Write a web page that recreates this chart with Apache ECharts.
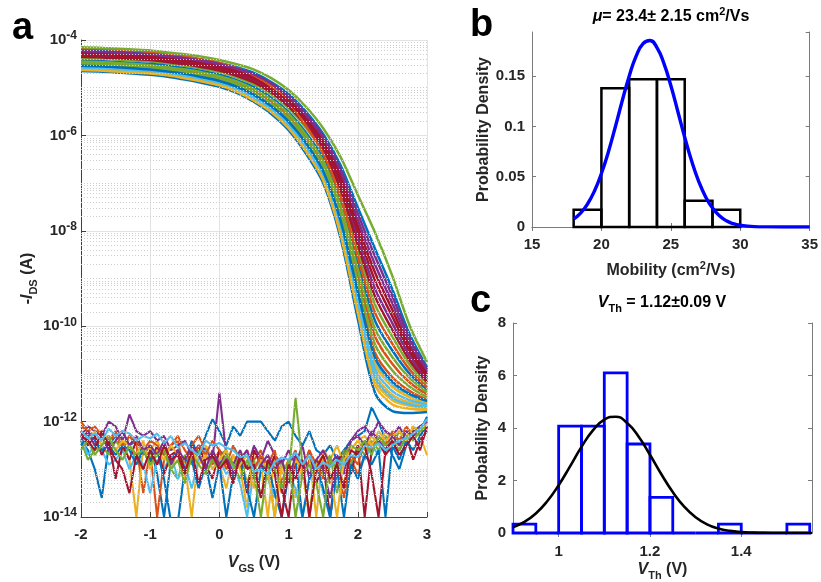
<!DOCTYPE html>
<html>
<head>
<meta charset="utf-8">
<script src="https://cdn.jsdelivr.net/npm/echarts@6/dist/echarts.min.js"></script>
<style>
  html, body { margin: 0; padding: 0; background: #fff; }
  #main { width: 821px; height: 582px; }
</style>
</head>
<body>
<div id="main"></div>
<script>
// ---------- data ----------
// panel a: transfer curves, stored as log10(-I_DS)
const vDrain = [-2, -1.75, -1.5, -1.25, -1, -0.75, -0.5, -0.25, 0, 0.25, 0.5, 0.75, 1, 1.25, 1.5, 1.75, 2, 2.25, 2.5, 2.75, 3];
const drainColor = [0, 1, 2, 3, 4, 5, 6, 0, 1, 2, 3, 4, 5, 6, 0, 1, 2, 3, 4, 5, 6, 2, 0, 4];
const drainLog = [
  [-4.65,-4.66,-4.68,-4.70,-4.73,-4.77,-4.83,-4.90,-4.98,-5.11,-5.30,-5.55,-5.89,-6.38,-7.00,-8.15,-9.85,-11.40,-11.78,-11.82,-11.80],
  [-4.48,-4.49,-4.51,-4.53,-4.55,-4.59,-4.64,-4.71,-4.78,-4.90,-5.06,-5.29,-5.60,-6.04,-6.60,-7.56,-8.94,-10.22,-10.79,-11.18,-11.43],
  [-4.61,-4.62,-4.64,-4.66,-4.69,-4.73,-4.79,-4.86,-4.94,-5.06,-5.25,-5.49,-5.82,-6.30,-6.91,-8.01,-9.64,-11.13,-11.55,-11.67,-11.72],
  [-4.25,-4.26,-4.28,-4.30,-4.32,-4.36,-4.41,-4.46,-4.53,-4.63,-4.76,-4.95,-5.22,-5.60,-6.08,-6.79,-7.77,-8.71,-9.52,-10.36,-10.96],
  [-4.38,-4.39,-4.41,-4.43,-4.45,-4.49,-4.54,-4.60,-4.67,-4.78,-4.93,-5.14,-5.43,-5.84,-6.37,-7.22,-8.42,-9.55,-10.22,-10.81,-11.22],
  [-4.55,-4.56,-4.58,-4.60,-4.63,-4.67,-4.72,-4.79,-4.87,-4.99,-5.16,-5.40,-5.72,-6.18,-6.77,-7.81,-9.33,-10.73,-11.21,-11.45,-11.59],
  [-4.28,-4.29,-4.31,-4.33,-4.35,-4.39,-4.43,-4.49,-4.56,-4.66,-4.79,-4.99,-5.26,-5.65,-6.14,-6.88,-7.90,-8.88,-9.66,-10.45,-11.01],
  [-4.43,-4.44,-4.46,-4.48,-4.50,-4.54,-4.59,-4.65,-4.73,-4.84,-4.99,-5.21,-5.51,-5.94,-6.48,-7.39,-8.68,-9.89,-10.51,-11.00,-11.33],
  [-4.53,-4.54,-4.56,-4.58,-4.60,-4.64,-4.70,-4.76,-4.84,-4.96,-5.13,-5.36,-5.68,-6.14,-6.71,-7.73,-9.20,-10.56,-11.07,-11.36,-11.54],
  [-4.59,-4.60,-4.62,-4.64,-4.67,-4.71,-4.77,-4.83,-4.91,-5.04,-5.22,-5.46,-5.79,-6.26,-6.86,-7.95,-9.54,-11.00,-11.44,-11.60,-11.67],
  [-4.33,-4.34,-4.36,-4.38,-4.40,-4.44,-4.49,-4.54,-4.62,-4.72,-4.86,-5.06,-5.34,-5.74,-6.25,-7.05,-8.16,-9.22,-9.94,-10.63,-11.12],
  [-4.45,-4.46,-4.48,-4.50,-4.53,-4.57,-4.62,-4.68,-4.76,-4.87,-5.03,-5.25,-5.55,-5.99,-6.54,-7.47,-8.81,-10.06,-10.65,-11.09,-11.38],
  [-4.60,-4.61,-4.63,-4.65,-4.68,-4.72,-4.78,-4.85,-4.92,-5.05,-5.23,-5.48,-5.81,-6.28,-6.89,-7.98,-9.59,-11.06,-11.50,-11.64,-11.70],
  [-4.35,-4.36,-4.38,-4.40,-4.42,-4.46,-4.51,-4.57,-4.64,-4.75,-4.89,-5.10,-5.39,-5.79,-6.31,-7.13,-8.29,-9.38,-10.08,-10.72,-11.17],
  [-4.20,-4.21,-4.23,-4.25,-4.27,-4.31,-4.35,-4.41,-4.48,-4.57,-4.69,-4.88,-5.13,-5.50,-5.97,-6.62,-7.51,-8.38,-9.23,-10.17,-10.86],
  [-4.17,-4.18,-4.20,-4.22,-4.25,-4.29,-4.34,-4.41,-4.48,-4.59,-4.74,-4.97,-5.30,-5.80,-6.38,-7.30,-8.55,-9.72,-10.37,-10.91,-11.28],
  [-4.56,-4.57,-4.59,-4.61,-4.64,-4.68,-4.74,-4.80,-4.88,-5.00,-5.18,-5.42,-5.74,-6.20,-6.79,-7.84,-9.38,-10.80,-11.27,-11.49,-11.61],
  [-4.23,-4.24,-4.26,-4.28,-4.30,-4.34,-4.38,-4.43,-4.50,-4.60,-4.72,-4.91,-5.18,-5.55,-6.02,-6.71,-7.64,-8.54,-9.37,-10.26,-10.91],
  [-4.50,-4.51,-4.53,-4.55,-4.58,-4.62,-4.67,-4.74,-4.81,-4.93,-5.10,-5.33,-5.64,-6.09,-6.66,-7.64,-9.07,-10.39,-10.93,-11.27,-11.49],
  [-4.58,-4.59,-4.61,-4.63,-4.65,-4.69,-4.75,-4.82,-4.90,-5.02,-5.20,-5.44,-5.76,-6.23,-6.83,-7.90,-9.46,-10.90,-11.36,-11.55,-11.64],
  [-4.30,-4.31,-4.33,-4.35,-4.37,-4.41,-4.46,-4.52,-4.59,-4.69,-4.82,-5.03,-5.30,-5.69,-6.20,-6.96,-8.03,-9.05,-9.80,-10.54,-11.07],
  [-4.63,-4.64,-4.66,-4.68,-4.70,-4.74,-4.80,-4.87,-4.95,-5.08,-5.27,-5.51,-5.85,-6.33,-6.94,-8.07,-9.72,-11.23,-11.64,-11.73,-11.75],
  [-4.54,-4.55,-4.57,-4.59,-4.62,-4.66,-4.71,-4.78,-4.86,-4.98,-5.15,-5.39,-5.71,-6.16,-6.75,-7.78,-9.28,-10.66,-11.16,-11.42,-11.57],
  [-4.15,-4.16,-4.18,-4.20,-4.22,-4.26,-4.30,-4.35,-4.42,-4.51,-4.62,-4.80,-5.05,-5.40,-5.85,-6.45,-7.25,-8.04,-8.95,-9.99,-10.75]
];

// panel a: leakage traces (noise floor), log10 values
const vLeak = [-2,-1.9,-1.8,-1.7,-1.6,-1.5,-1.4,-1.3,-1.2,-1.1,-1,-0.9,-0.8,-0.7,-0.6,-0.5,-0.4,-0.3,-0.2,-0.1,
  0,0.1,0.2,0.3,0.4,0.5,0.6,0.7,0.8,0.9,1,1.1,1.2,1.3,1.4,1.5,1.6,1.7,1.8,1.9,2,2.1,2.2,2.3,2.4,2.5,2.6,2.7,2.8,2.9,3];
const leakColor = [0, 1, 2, 3, 4, 5, 6, 0, 1, 2, 3, 4, 6, 5];
const leakLog = [
  [-12.4,-12.6,-13.0,-13.6,-12.5,-12.3,-12.2,-12.5,-12.4,-12.7, -12.5,-13.1,-14.0,-12.8,-12.6,-12.9,-12.4,-12.7,-12.3,-11.95,
   -12.2,-12.5,-12.1,-12.3,-12.0,-12.0,-12.0,-12.2,-12.4,-12.1, -12.0,-12.3,-12.5,-12.2,-12.6,-12.7,-12.5,-12.8,-12.6,-12.4,
   -12.3,-12.2,-11.7,-12.0,-12.4,-12.7,-13.0,-12.5,-12.3,-12.2, -11.9],
  [-12.1,-12.2,-12.3,-12.2,-12.4,-12.3,-12.6,-12.3,-12.5,-13.5, -12.6,-14.0,-12.8,-12.5,-12.4,-13.1,-12.5,-12.3,-12.6,-12.9,
   -12.6,-13.0,-12.7,-12.9,-13.4,-12.8,-12.6,-13.2,-12.7,-13.5, -12.9,-12.6,-13.2,-12.8,-13.0,-12.7,-13.3,-12.9,-13.6,-12.8,
   -13.1,-12.7,-12.5,-12.4,-12.6,-12.3,-12.4,-12.2,-12.3,-12.1, -12.0],
  [-12.2,-12.3,-12.5,-12.4,-12.3,-12.6,-12.4,-12.8,-14.0,-12.5, -12.6,-12.4,-12.7,-13.0,-12.6,-12.9,-14.0,-12.7,-12.5,-12.8,
   -12.9,-13.4,-12.7,-13.0,-13.8,-12.6,-12.9,-14.0,-12.7,-13.1, -12.8,-13.6,-12.9,-12.7,-14.0,-12.6,-12.8,-12.5,-12.9,-12.6,
   -12.4,-12.6,-12.3,-12.5,-12.2,-12.4,-12.5,-12.3,-12.2,-12.3, -12.7],
  [-12.3,-12.1,-12.2,-12.3,-12.0,-12.1,-12.4,-11.85,-12.2,-12.3, -12.2,-12.4,-12.3,-12.6,-12.5,-12.4,-12.7,-12.5,-12.6,-12.8,
   -11.4,-12.7,-12.9,-12.6,-13.0,-12.5,-12.8,-12.4,-12.7,-12.9, -12.6,-12.9,-12.5,-13.2,-12.8,-12.6,-12.9,-12.7,-13.1,-12.4,
   -12.2,-12.1,-12.3,-12.0,-12.2,-12.3,-12.1,-12.4,-12.2,-12.1, -12.0],
  [-12.4,-12.8,-12.6,-12.5,-12.7,-12.4,-12.6,-12.5,-12.8,-12.6, -12.7,-12.9,-12.6,-13.0,-13.2,-12.7,-12.9,-12.6,-13.1,-12.8,
   -12.7,-12.6,-13.0,-12.7,-13.3,-12.8,-13.6,-12.9,-14.0,-12.8, -13.2,-11.5,-12.9,-14.0,-12.8,-13.1,-12.7,-13.5,-12.6,-12.9,
   -12.5,-12.7,-12.4,-12.6,-12.3,-12.5,-12.2,-12.4,-12.1,-12.3, -12.0],
  [-12.3,-12.7,-12.5,-12.6,-12.9,-12.8,-12.6,-13.0,-12.7,-12.9, -13.5,-12.8,-13.0,-12.7,-13.2,-12.9,-13.4,-12.8,-12.6,-13.0,
   -12.8,-13.1,-12.9,-13.3,-14.0,-13.0,-12.8,-13.2,-13.6,-12.9, -13.1,-13.4,-14.0,-13.2,-12.9,-13.5,-14.0,-13.1,-12.8,-13.0,
   -12.6,-12.8,-12.5,-12.7,-12.4,-12.3,-12.5,-12.2,-12.3,-12.1, -12.0],
  [-12.2,-12.5,-12.3,-12.7,-12.4,-13.2,-12.5,-12.8,-12.4,-12.6, -12.9,-12.5,-13.1,-12.7,-12.6,-13.0,-12.8,-12.5,-12.9,-13.2,
   -12.6,-12.8,-13.2,-12.7,-13.5,-12.6,-12.9,-13.1,-12.7,-13.4, -14.0,-12.8,-13.0,-12.6,-13.3,-12.9,-14.0,-12.8,-12.7,-13.1,
   -12.5,-14.0,-12.6,-12.4,-12.7,-12.5,-12.6,-12.3,-12.8,-12.4, -12.2],
  [-12.5,-12.3,-12.4,-12.6,-12.5,-12.7,-12.5,-12.6,-12.9,-12.6, -12.8,-12.6,-13.2,-14.1,-14.1,-13.0,-12.8,-13.4,-12.9,-13.6,
   -12.9,-14.0,-13.1,-12.8,-13.4,-14.0,-13.0,-12.9,-13.5,-14.0, -13.1,-12.8,-14.0,-13.2,-12.9,-13.4,-14.0,-13.0,-14.0,-12.9,
   -13.2,-12.7,-12.9,-12.6,-14.0,-12.5,-12.8,-12.4,-12.6,-12.3, -12.1],
  [-12.0,-12.2,-12.1,-12.3,-12.4,-12.2,-12.5,-12.3,-12.4,-12.6, -12.4,-12.5,-12.7,-12.5,-12.3,-12.6,-12.8,-12.5,-12.7,-12.4,
   -12.6,-12.9,-12.5,-12.8,-12.6,-13.0,-12.7,-12.9,-12.6,-13.3, -12.8,-12.7,-13.0,-12.6,-12.9,-13.2,-12.8,-13.0,-13.3,-12.7,
   -12.9,-12.4,-12.6,-12.3,-12.5,-12.2,-12.4,-12.1,-12.3,-12.2, -11.95],
  [-12.3,-12.4,-12.2,-12.5,-12.3,-12.6,-12.4,-12.5,-12.7,-12.4, -13.0,-12.6,-12.8,-12.5,-12.7,-13.2,-12.6,-12.9,-12.7,-13.0,
   -12.8,-12.6,-13.1,-12.9,-12.7,-13.4,-12.8,-13.0,-14.0,-12.9, -13.2,-12.8,-13.0,-14.0,-12.9,-12.7,-13.1,-14.0,-12.8,-12.6,
   -12.4,-12.3,-12.5,-12.2,-12.4,-12.3,-12.2,-12.4,-12.1,-12.2, -12.0],
  [-12.4,-12.2,-12.5,-12.3,-12.6,-12.4,-12.2,-12.5,-12.3,-12.6, -12.5,-12.7,-12.4,-12.9,-12.6,-12.8,-12.5,-12.7,-13.0,-12.6,
   -12.9,-12.7,-13.1,-12.8,-12.6,-13.2,-12.9,-12.7,-13.0,-12.8, -13.3,-12.7,-12.9,-13.1,-12.8,-13.0,-13.6,-12.9,-12.7,-12.4,
   -12.3,-12.5,-12.2,-12.4,-12.6,-12.3,-12.5,-12.2,-12.3,-12.1, -12.0],
  [-12.6,-12.4,-12.7,-12.5,-12.3,-12.6,-12.8,-12.5,-12.7,-12.6, -12.9,-12.7,-12.6,-13.0,-12.8,-13.3,-12.7,-12.9,-13.1,-12.8,
   -13.0,-12.7,-12.9,-13.2,-12.8,-13.1,-14.0,-12.9,-13.0,-13.4, -12.8,-14.0,-13.1,-12.9,-13.3,-14.0,-12.8,-13.0,-12.7,-12.5,
   -12.6,-12.4,-12.7,-12.3,-12.5,-12.4,-12.6,-12.3,-12.4,-12.2, -12.1],
  [-12.3,-12.4,-12.6,-12.2,-12.5,-12.8,-13.0,-13.5,-12.7,-13.0, -12.6,-12.9,-12.5,-12.8,-12.7,-13.1,-12.6,-13.3,-12.8,-12.7,
   -13.0,-12.8,-13.3,-12.7,-13.0,-12.9,-13.6,-12.8,-13.1,-14.0, -12.9,-13.2,-12.8,-14.0,-13.0,-12.7,-13.2,-12.9,-13.4,-12.6,
   -12.7,-12.5,-13.1,-14.0,-12.6,-12.4,-12.7,-12.5,-12.3,-12.6, -12.1],
  [-12.2,-12.35,-12.25,-12.4,-12.15,-12.3,-12.2,-12.25,-12.4,-12.3, -12.35,-12.25,-12.45,-12.3,-12.55,-12.45,-12.6,-12.7,-12.4,-12.5,
   -12.45,-12.55,-12.6,-12.75,-12.7,-13.05,-13.0,-13.1,-12.85,-12.75, -12.8,-12.65,-12.9,-12.7,-13.0,-12.85,-12.95,-12.8,-12.9,-12.7,
   -12.75,-12.5,-12.55,-12.45,-12.6,-12.5,-12.4,-12.35,-12.25,-12.15, -11.95]
];
const yTicksA = [-14, -12, -10, -8, -6, -4];

// panel b: mobility histogram (bin edges, density) and normal fit
const muEdges = [18, 20, 22, 24, 26, 28, 30];
const muDensity = [0.0172, 0.138, 0.147, 0.147, 0.026, 0.0172];
const muFitX = [18, 18.5, 19, 19.5, 20, 20.5, 21, 21.5, 22, 22.5, 23, 23.5, 24, 24.5, 25, 25.5, 26, 26.5, 27, 27.5, 28, 28.5, 29, 29.5, 30, 31, 32, 33, 34, 35];
const muFitY = [0.0079, 0.0138, 0.0229, 0.0358, 0.0532, 0.0747, 0.0995, 0.1256, 0.150, 0.170, 0.1824, 0.1855, 0.1785, 0.1628, 0.1407, 0.1152, 0.0893, 0.0656, 0.0457, 0.0301, 0.0188, 0.0111, 0.0062, 0.0033, 0.0017, 0.0004, 0.0001, 0, 0, 0];

// panel c: threshold voltage histogram and normal fit
const vthEdges = [0.9, 0.95, 1.0, 1.05, 1.1, 1.15, 1.2, 1.25, 1.3, 1.35, 1.4, 1.45, 1.5, 1.55];
const vthDensity = [0.34, 0, 4.07, 4.07, 6.10, 3.39, 1.36, 0, 0, 0.34, 0, 0, 0.34];
const vthFitX = [0.9, 0.925, 0.95, 0.975, 1.0, 1.025, 1.05, 1.075, 1.1, 1.125, 1.15, 1.175, 1.2, 1.225, 1.25, 1.275, 1.3, 1.325, 1.35, 1.375, 1.4, 1.425, 1.45, 1.475, 1.5, 1.525, 1.555];
const vthFitY = [0.223, 0.424, 0.744, 1.21, 1.82, 2.54, 3.28, 3.91, 4.32, 4.43, 4.19, 3.68, 2.98, 2.24, 1.56, 1.006, 0.60, 0.331, 0.169, 0.080, 0.035, 0.014, 0.005, 0.002, 0.0005, 0.0001, 0];

// ---------- chart ----------
const FONT = "'Liberation Sans', Arial, Helvetica, sans-serif";
const INK = '#262626';
const matlab = ['#0072BD', '#D95319', '#EDB120', '#7E2F8E', '#77AC30', '#4DBEEE', '#A2142F'];

const chart = echarts.init(document.getElementById('main'), null, { renderer: 'canvas' });

const base = { fontFamily: FONT, fontWeight: 'bold', color: INK };
const richLbl = {
  n: { ...base, fontSize: 16, lineHeight: 22 },
  i: { ...base, fontSize: 16, lineHeight: 22, fontStyle: 'italic' },
  sub: { ...base, fontSize: 11, lineHeight: 12, verticalAlign: 'bottom' },
  sup: { ...base, fontSize: 11, lineHeight: 12, verticalAlign: 'top' }
};

// dotted minor grid levels for the log axis (2..9 x 10^n and odd decades)
const minorLevels = [];
for (let n = -14; n < -4; n++) {
  if (n % 2 !== 0) minorLevels.push(n);
  for (let k = 2; k <= 9; k++) minorLevels.push(n + Math.log10(k));
}

function histRender(color, w) {
  return function (params, api) {
    const p0 = api.coord([api.value(0), api.value(2)]);
    const p1 = api.coord([api.value(1), 0]);
    return {
      type: 'rect',
      shape: { x: p0[0], y: p0[1], width: p1[0] - p0[0], height: p1[1] - p0[1] },
      style: { fill: 'none', stroke: color, lineWidth: w }
    };
  };
}

const series = [];
series.push({
  type: 'line', xAxisIndex: 0, yAxisIndex: 0, data: [], z: 1, silent: true,
  markLine: {
    silent: true, symbol: 'none', animation: false,
    label: { show: false },
    lineStyle: { type: [1, 2], color: '#cfcfcf', width: 1 },
    data: minorLevels.map(v => ({ yAxis: v }))
  }
});
drainLog.forEach((arr, k) => {
  series.push({
    type: 'line', xAxisIndex: 0, yAxisIndex: 0, showSymbol: false, smooth: 0.3,
    lineStyle: { width: 2.5, color: matlab[drainColor[k]] },
    data: vDrain.map((v, i) => [v, arr[i]])
  });
});
leakLog.forEach((arr, k) => {
  series.push({
    type: 'line', xAxisIndex: 0, yAxisIndex: 0, showSymbol: false,
    lineStyle: { width: 2.1, color: matlab[leakColor[k]] },
    data: vLeak.map((v, i) => [v, arr[i]])
  });
});
series.push({
  type: 'custom', xAxisIndex: 1, yAxisIndex: 1, renderItem: histRender('#000', 2.5),
  encode: { x: [0, 1], y: 2 },
  data: muDensity.map((d, i) => [muEdges[i], muEdges[i + 1], d])
});
series.push({
  type: 'line', xAxisIndex: 1, yAxisIndex: 1, showSymbol: false, smooth: true,
  lineStyle: { width: 3.4, color: '#0000FF' },
  data: muFitX.map((x, i) => [x, muFitY[i]])
});
series.push({
  type: 'custom', xAxisIndex: 2, yAxisIndex: 2, renderItem: histRender('#0000FF', 2.8),
  encode: { x: [0, 1], y: 2 },
  data: vthDensity.map((d, i) => [vthEdges[i], vthEdges[i + 1], d])
});
series.push({
  type: 'line', xAxisIndex: 2, yAxisIndex: 2, showSymbol: false, smooth: true,
  lineStyle: { width: 2.6, color: '#000' },
  data: vthFitX.map((x, i) => [x, vthFitY[i]])
});

const tickLbl = { ...base, fontSize: 15 };
const boxLine = { show: true, lineStyle: { color: '#7a7a7a', width: 1 } };
const noLabel = { show: false };

const option = {
  animation: false,
  backgroundColor: '#fff',
  grid: [
    { left: 81, right: 394, top: 40, bottom: 65 },
    { left: 532, right: 10, top: 32, bottom: 355 },
    { left: 513, right: 9, top: 323, bottom: 49 }
  ],
  xAxis: [
    {
      gridIndex: 0, type: 'value', min: -2, max: 3, interval: 1,
      axisLine: { show: true, onZero: false, lineStyle: { color: '#404040', width: 1 } },
      axisTick: { show: true, inside: true, length: 5, lineStyle: { color: '#404040' } },
      axisLabel: { ...tickLbl, margin: 10 },
      splitLine: { show: true, lineStyle: { color: '#e3e3e3', width: 1 } },
      name: '{i|V}{sub|GS}{n| (V)}', nameLocation: 'middle', nameGap: 35,
      nameTextStyle: { rich: richLbl }
    },
    {
      gridIndex: 1, type: 'value', min: 15, max: 35, interval: 5,
      axisLine: { ...boxLine, onZero: false },
      axisTick: { show: true, inside: true, length: 4, lineStyle: { color: '#7a7a7a' } },
      axisLabel: { ...tickLbl, margin: 10 },
      splitLine: { show: false },
      name: '{n|Mobility (cm}{sup|2}{n|/Vs)}', nameLocation: 'middle', nameGap: 33,
      nameTextStyle: { rich: richLbl }
    },
    {
      gridIndex: 2, type: 'value', min: 0.9, max: 1.555,
      axisLine: { ...boxLine, onZero: false },
      axisTick: { show: true, inside: true, length: 4, lineStyle: { color: '#7a7a7a' }, customValues: [1, 1.2, 1.4] },
      axisLabel: { ...tickLbl, margin: 11, customValues: [1, 1.2, 1.4] },
      splitLine: { show: false },
      name: '{i|V}{sub|Th}{n| (V)}', nameLocation: 'middle', nameGap: 26,
      nameTextStyle: { rich: richLbl }
    },
    { gridIndex: 1, type: 'value', position: 'top', min: 15, max: 35, interval: 5, axisLine: boxLine,
      axisTick: { show: true, inside: true, length: 4, lineStyle: { color: '#7a7a7a' } }, axisLabel: noLabel, splitLine: { show: false } },
    { gridIndex: 2, type: 'value', position: 'top', min: 0.9, max: 1.555, axisLine: boxLine,
      axisTick: { show: true, inside: true, length: 4, lineStyle: { color: '#7a7a7a' }, customValues: [1, 1.2, 1.4] },
      axisLabel: { show: false, customValues: [1, 1.2, 1.4] }, splitLine: { show: false } }
  ],
  yAxis: [
    {
      gridIndex: 0, type: 'value', min: -14, max: -4, interval: 2,
      axisLine: { show: true, onZero: false, lineStyle: { color: '#404040', width: 1 } },
      axisTick: { show: true, inside: true, length: 5, lineStyle: { color: '#404040' } },
      axisLabel: {
        margin: 4,
        formatter: v => (yTicksA.indexOf(v) >= 0 ? '{b|10}{s|' + v + '}' : ''),
        rich: {
          b: { ...base, fontSize: 15, lineHeight: 20 },
          s: { ...base, fontSize: 12, lineHeight: 13, verticalAlign: 'top' }
        }
      },
      splitLine: { show: true, lineStyle: { color: '#e3e3e3', width: 1 } },
      name: '{n|-}{i|I}{sub|DS}{n| (A)}', nameLocation: 'middle', nameGap: 42, nameRotate: 90,
      nameTextStyle: { rich: richLbl }
    },
    {
      gridIndex: 1, type: 'value', min: 0, max: 0.194, interval: 0.05,
      axisLine: { ...boxLine, onZero: false },
      axisTick: { show: true, inside: true, length: 4, lineStyle: { color: '#7a7a7a' } },
      axisLabel: { ...tickLbl, margin: 7, showMaxLabel: false },
      splitLine: { show: false },
      name: 'Probability Density', nameLocation: 'middle', nameGap: 40, nameRotate: 90,
      nameTextStyle: { ...base, fontSize: 16 }
    },
    {
      gridIndex: 2, type: 'value', min: 0, max: 8, interval: 2,
      axisLine: { ...boxLine, onZero: false },
      axisTick: { show: true, inside: true, length: 4, lineStyle: { color: '#7a7a7a' } },
      axisLabel: { ...tickLbl, margin: 7 },
      splitLine: { show: false },
      name: 'Probability Density', nameLocation: 'middle', nameGap: 22, nameRotate: 90,
      nameTextStyle: { ...base, fontSize: 16 }
    },
    { gridIndex: 1, type: 'value', position: 'right', min: 0, max: 0.194, interval: 0.05, axisLine: boxLine,
      axisTick: { show: true, inside: true, length: 4, lineStyle: { color: '#7a7a7a' } }, axisLabel: noLabel, splitLine: { show: false } },
    { gridIndex: 2, type: 'value', position: 'right', min: 0, max: 8, interval: 2, axisLine: boxLine,
      axisTick: { show: true, inside: true, length: 4, lineStyle: { color: '#7a7a7a' } }, axisLabel: noLabel, splitLine: { show: false } }
  ],
  graphic: [
    { type: 'text', x: 12, y: 29, style: { text: 'a', font: 'bold 38px ' + FONT, fill: '#000', verticalAlign: 'middle' } },
    { type: 'text', x: 470, y: 26, style: { text: 'b', font: 'bold 38px ' + FONT, fill: '#000', verticalAlign: 'middle' } },
    { type: 'text', x: 470, y: 302, style: { text: 'c', font: 'bold 38px ' + FONT, fill: '#000', verticalAlign: 'middle' } },
    {
      type: 'text', x: 671, y: 17,
      style: {
        text: '{i|μ}{n|= 23.4± 2.15 cm}{sup|2}{n|/Vs}', rich: richLbl,
        align: 'center', verticalAlign: 'middle'
      }
    },
    {
      type: 'text', x: 662, y: 303,
      style: {
        text: '{i|V}{sub|Th}{n| = 1.12±0.09 V}', rich: richLbl,
        align: 'center', verticalAlign: 'middle'
      }
    }
  ],
  series: series
};

chart.setOption(option);
</script>
</body>
</html>
